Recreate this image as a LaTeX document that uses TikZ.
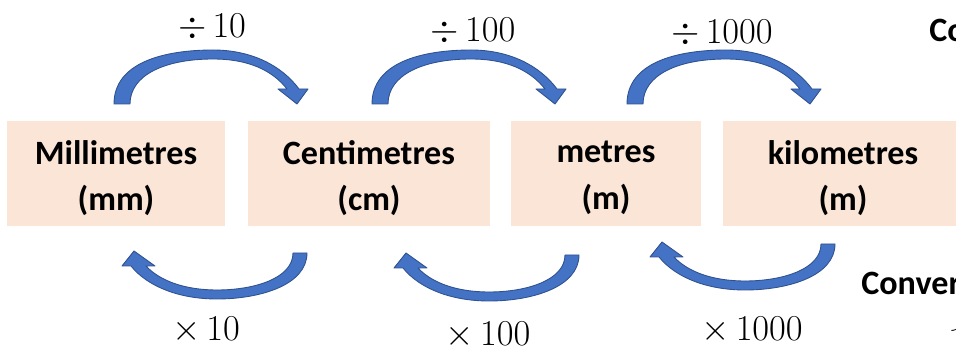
\documentclass[tikz,border=0pt]{standalone}
\usepackage{fontspec}
\newfontfamily\boxfont{Carlito}

\definecolor{boxpeach}{RGB}{251,229,214}
\definecolor{arrowblue}{RGB}{68,114,196}
\definecolor{arrowedge}{RGB}{47,82,143}

\tikzset{
  unitbox/.style={fill=boxpeach,inner sep=0pt,minimum height=2.1cm},
  unittext/.style={inner sep=0pt,align=center,
    font=\boxfont\bfseries\fontsize{19.4}{26.5}\selectfont},
  oplabel/.style={anchor=base,inner sep=0pt,font=\fontsize{22}{26}\selectfont},
  cuttext/.style={anchor=base west,inner sep=0pt,font=\boxfont\bfseries\fontsize{19.4}{21.5}\selectfont},
  blockarrow/.style={fill=arrowblue,draw=arrowedge,line width=0.5pt,line join=round},
  pics/divarrow/.style={code={
    \path[blockarrow] (0,0) .. controls (0,-42) and (51,-54) .. (99,-54)
      .. controls (138,-54) and (168,-38) .. (185,-15)
      -- (194,-15) -- (183,0) -- (164,-15) -- (173,-15)
      .. controls (158,-34) and (134,-45) .. (99,-45)
      .. controls (51,-45) and (16,-29) .. (16,0) -- cycle;
  }},
  pics/mularrow/.style={code={
    \path[blockarrow] (0,0) .. controls (0,32) and (-47,46) .. (-90,46)
      .. controls (-127,46) and (-159,34) .. (-176,13)
      -- (-185,13) -- (-173,-2) -- (-152,13) -- (-161,13)
      .. controls (-147,28) and (-122,37) .. (-90,37)
      .. controls (-52,37) and (-14,25) .. (-14,0) -- cycle;
  }}
}

\begin{document}
\begin{tikzpicture}[x=0.02cm,y=-0.02cm]
  \useasboundingbox (0,0) rectangle (956,347);
  \clip (0,0) rectangle (956,347);
  % unit boxes
  \node[unitbox,minimum width=4.36cm] (mm) at (116,173.5) {};
  \node[unitbox,minimum width=4.84cm] (cm) at (369,173.5) {};
  \node[unitbox,minimum width=3.8cm] (m) at (606,173.5) {};
  \node[unitbox,minimum width=4.8cm] (km) at (843,173.5) {};
  \node[unittext] (mmtext) at (116,178) {Millimetres\\(mm)};
  \node[unittext] (cmtext) at (369,178) {Centimetres\\(cm)};
  \node[unittext] (mtext) at (606,178) {metres\\(m)};
  \node[unittext] (kmtext) at (843,178) {kilometres\\(m)};
  % curved arrows
  \foreach \xb in {114,372,627}
    \pic at (\xb,104) {divarrow};
  \foreach \xb/\yb in {307/253,579/255,835/244}
    \pic at (\xb,\yb) {mularrow};
  % operation labels
  \node[oplabel] (div10) at (212,38) {$\div\,10$};
  \node[oplabel] (div100) at (473,42) {$\div\,100$};
  \node[oplabel] (div1000) at (722,44) {$\div\,1000$};
  \node[oplabel] (mul10) at (206,340) {$\times\,10$};
  \node[oplabel] (mul100) at (488,345) {$\times\,100$};
  \node[oplabel] (mul1000) at (752,340) {$\times\,1000$};
  % text cut at the right edge
  \node[cuttext] (topnote) at (929,42) {Co};
  \node[cuttext] (botnote) at (861,295) {Conver};
  \node[oplabel,anchor=north west] (onecut) at (948,328) {1};
\end{tikzpicture}
\end{document}
